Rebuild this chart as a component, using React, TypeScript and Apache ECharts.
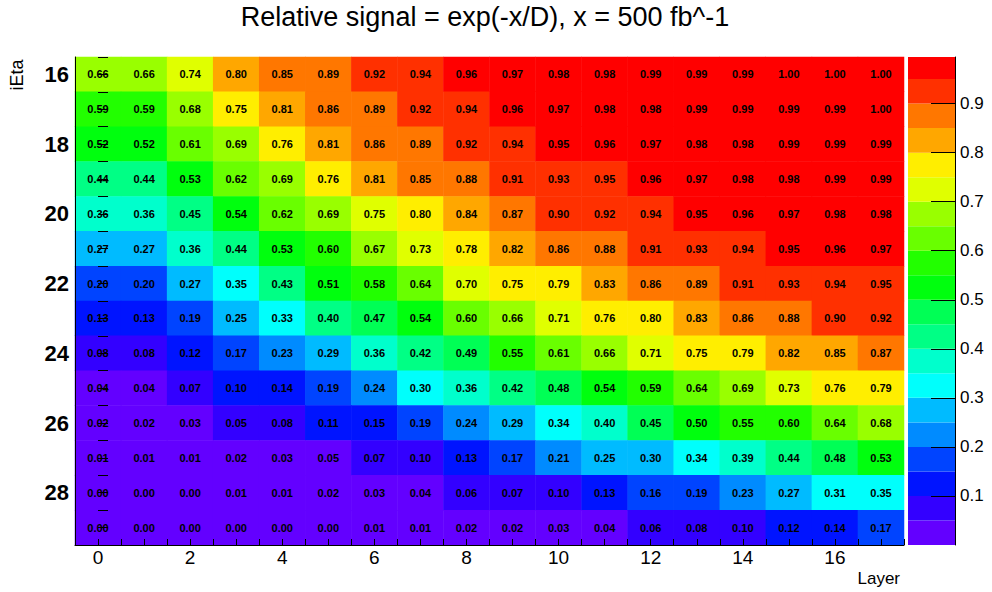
import React, { useEffect, useRef } from "react";
import * as echarts from "echarts";

const layers = ["0","1","2","3","4","5","6","7","8","9","10","11","12","13","14","15","16","17"];
const iEta = ["16","17","18","19","20","21","22","23","24","25","26","27","28","29"];

// relative signal per iEta row (16..29), per layer (0..17)
const r16 = [0.66,0.66,0.74,0.80,0.85,0.89,0.92,0.94,0.96,0.97,0.98,0.98,0.99,0.99,0.99,0.996,0.996,0.996];
const r17 = [0.59,0.59,0.68,0.75,0.81,0.86,0.89,0.92,0.94,0.96,0.97,0.98,0.98,0.99,0.99,0.99,0.99,0.996];
const r18 = [0.52,0.52,0.61,0.69,0.76,0.81,0.86,0.89,0.92,0.94,0.95,0.96,0.97,0.98,0.98,0.99,0.99,0.99];
const r19 = [0.44,0.44,0.53,0.62,0.69,0.76,0.81,0.85,0.88,0.91,0.93,0.949,0.96,0.97,0.98,0.98,0.99,0.99];
const r20 = [0.36,0.36,0.448,0.54,0.62,0.69,0.748,0.798,0.84,0.87,0.90,0.92,0.94,0.95,0.96,0.97,0.98,0.98];
const r21 = [0.27,0.27,0.36,0.44,0.53,0.598,0.67,0.73,0.78,0.82,0.86,0.88,0.91,0.93,0.94,0.95,0.96,0.97];
const r22 = [0.198,0.198,0.27,0.348,0.43,0.51,0.58,0.64,0.70,0.75,0.79,0.83,0.86,0.89,0.91,0.93,0.94,0.948];
const r23 = [0.13,0.13,0.19,0.25,0.33,0.40,0.47,0.54,0.60,0.66,0.71,0.76,0.798,0.83,0.86,0.88,0.90,0.92];
const r24 = [0.08,0.08,0.12,0.17,0.23,0.29,0.36,0.42,0.49,0.55,0.61,0.66,0.71,0.75,0.79,0.82,0.848,0.87];
const r25 = [0.04,0.04,0.07,0.10,0.14,0.19,0.24,0.30,0.36,0.42,0.48,0.54,0.59,0.64,0.69,0.73,0.76,0.79];
const r26 = [0.02,0.02,0.03,0.05,0.08,0.11,0.148,0.19,0.24,0.29,0.34,0.398,0.45,0.50,0.55,0.598,0.64,0.68];
const r27 = [0.01,0.01,0.01,0.02,0.03,0.048,0.07,0.098,0.13,0.17,0.21,0.25,0.298,0.34,0.39,0.44,0.48,0.53];
const r28 = [0.00,0.00,0.00,0.01,0.01,0.02,0.03,0.04,0.06,0.07,0.098,0.13,0.16,0.19,0.23,0.27,0.31,0.348];
const r29 = [0.00,0.00,0.00,0.00,0.00,0.00,0.01,0.01,0.02,0.02,0.03,0.04,0.06,0.08,0.098,0.12,0.14,0.17];
const rows = [r16, r17, r18, r19, r20, r21, r22, r23, r24, r25, r26, r27, r28, r29];

// colour contour levels (z axis)
const zLevels = [0,0.05,0.1,0.15,0.2,0.25,0.3,0.35,0.4,0.45,0.5,0.55,0.6,0.65,0.7,0.75,0.8,0.85,0.9,0.95];
const zMax = 0.995;
const zTicks = [0.1,0.2,0.3,0.4,0.5,0.6,0.7,0.8,0.9];
const levelColors = ["#6300ff","#3300ff","#0014ff","#0044ff","#008bff","#00bbff","#00fffc","#00ffcc","#00ff85","#00ff55","#00ff0e","#22ff00","#69ff00","#99ff00","#e0ff00","#ffee00","#ffa700","#ff7700","#ff3000","#ff0000"];

const FONT = "'Liberation Sans', Arial, Helvetica, sans-serif";

export default function App() {
  const ref = useRef<HTMLDivElement>(null);
  useEffect(() => {
    if (!ref.current) return;
    const chart = echarts.init(ref.current, null, { renderer: "svg" });
    const data: number[][] = [];
    rows.forEach((row, r) => row.forEach((v, c) => data.push([c, r, v])));
    const pieces = zLevels.map((lo, i) =>
      i < zLevels.length - 1
        ? { gte: lo, lt: zLevels[i + 1], color: levelColors[i] }
        : { gte: lo, lte: 1.0, color: levelColors[i] }
    );
    const barSeries = zLevels.map((lo, i) => ({
      type: "bar",
      xAxisIndex: 2,
      yAxisIndex: 2,
      stack: "cb",
      barWidth: "100%",
      silent: true,
      itemStyle: { color: levelColors[i] },
      data: [(i < zLevels.length - 1 ? zLevels[i + 1] : zMax) - lo],
    }));
    chart.setOption({
      animation: false,
      textStyle: { fontFamily: FONT },
      grid: [
        { left: 75, top: 57, width: 829, height: 488 },
        { left: 908, top: 57, width: 47, height: 488 },
      ],
      visualMap: {
        type: "piecewise",
        show: false,
        seriesIndex: 0,
        dimension: 2,
        pieces,
      },
      xAxis: [
        {
          type: "category",
          gridIndex: 0,
          data: layers,
          z: 5,
          axisLine: { onZero: false, lineStyle: { color: "#000", width: 1 } },
          axisTick: { alignWithLabel: true, interval: 1, inside: true, length: 12, lineStyle: { color: "#000" } },
          axisLabel: { interval: 1, fontSize: 19, color: "#000", margin: 3, fontFamily: FONT },
          splitLine: { show: false },
        },
        {
          type: "value",
          gridIndex: 0,
          min: -0.5,
          max: 17.5,
          interval: 0.5,
          position: "bottom",
          z: 5,
          axisLine: { show: false },
          axisTick: { show: true, inside: true, length: 6, lineStyle: { color: "#000" } },
          axisLabel: { show: false },
          splitLine: { show: false },
        },
        {
          type: "category",
          gridIndex: 1,
          data: [""],
          show: false,
        },
      ],
      yAxis: [
        {
          type: "category",
          gridIndex: 0,
          data: iEta,
          inverse: true,
          z: 5,
          axisLine: { onZero: false, lineStyle: { color: "#000", width: 1 } },
          axisTick: { alignWithLabel: true, interval: 1, inside: true, length: 12, lineStyle: { color: "#000" } },
          axisLabel: { interval: 1, fontSize: 22, fontWeight: "bold", color: "#000", margin: 6, fontFamily: FONT },
          splitLine: { show: false },
        },
        {
          type: "value",
          gridIndex: 0,
          min: 15.5,
          max: 29.5,
          interval: 0.5,
          inverse: true,
          position: "left",
          z: 5,
          axisLine: { show: false },
          axisTick: { show: true, inside: true, length: 10, lineStyle: { color: "#000" } },
          axisLabel: { show: false },
          splitLine: { show: false },
        },
        {
          type: "value",
          gridIndex: 1,
          min: 0,
          max: zMax,
          position: "right",
          z: 5,
          axisLine: { show: true, lineStyle: { color: "#000", width: 1 } },
          axisTick: { show: true, inside: true, length: 24, customValues: zTicks, lineStyle: { color: "#000" } },
          axisLabel: {
            show: true,
            customValues: zTicks,
            formatter: (v: number) => v.toFixed(1),
            fontSize: 17,
            color: "#000",
            margin: 5,
            fontFamily: FONT,
          },
          splitLine: { show: false },
        },
      ],
      series: [
        {
          type: "heatmap",
          xAxisIndex: 0,
          yAxisIndex: 0,
          data,
          label: {
            show: true,
            formatter: (p: any) => (p.value[2] as number).toFixed(2),
            color: "#000",
            fontSize: 11,
            fontWeight: "bold",
            fontFamily: FONT,
          },
          itemStyle: { borderWidth: 0 },
          emphasis: { disabled: true },
        },
        ...barSeries,
      ],
      graphic: [
        {
          type: "text",
          x: 485,
          y: 17,
          style: {
            text: "Relative signal = exp(-x/D), x = 500 fb^-1",
            fontSize: 27,
            fontFamily: FONT,
            fill: "#000",
            align: "center",
            verticalAlign: "middle",
          },
        },
        {
          type: "text",
          x: 900,
          y: 578,
          style: {
            text: "Layer",
            fontSize: 17,
            fontFamily: FONT,
            fill: "#000",
            align: "right",
            verticalAlign: "middle",
          },
        },
        {
          type: "text",
          x: 17,
          y: 75,
          rotation: Math.PI / 2,
          style: {
            text: "iEta",
            fontSize: 18,
            fontFamily: FONT,
            fill: "#000",
            align: "center",
            verticalAlign: "middle",
          },
        },
      ],
    });
    return () => chart.dispose();
  }, []);
  return (
    <div
      ref={ref}
      style={{ position: "fixed", left: 0, top: 0, width: 992, height: 592, background: "#fff" }}
    />
  );
}
